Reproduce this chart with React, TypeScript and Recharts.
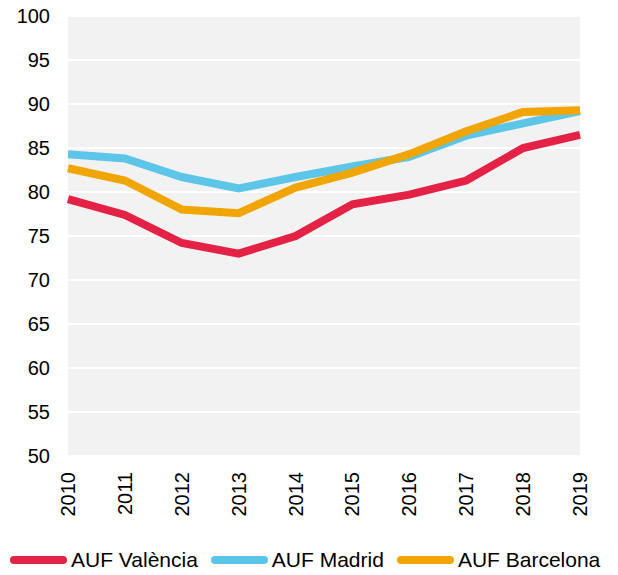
import React from "react";
import { LineChart, Line, XAxis, YAxis, CartesianGrid, Legend } from "recharts";

const years = ["2010", "2011", "2012", "2013", "2014", "2015", "2016", "2017", "2018", "2019"];
const valencia = [79.2, 77.4, 74.2, 73.0, 75.0, 78.6, 79.7, 81.3, 85.0, 86.5];
const madrid = [84.3, 83.8, 81.7, 80.4, 81.7, 82.9, 84.0, 86.4, 87.8, 89.2];
const barcelona = [82.7, 81.3, 78.0, 77.6, 80.5, 82.2, 84.3, 86.9, 89.1, 89.3];
const yTicks = [50, 55, 60, 65, 70, 75, 80, 85, 90, 95, 100];

const seriesNames = ["AUF València", "AUF Madrid", "AUF Barcelona"];
const seriesKeys = ["valencia", "madrid", "barcelona"];
const seriesColors = ["#E32245", "#5DC5E8", "#F0A500"];

const data = years.map((y, i) => ({
  year: y,
  valencia: valencia[i],
  madrid: madrid[i],
  barcelona: barcelona[i],
}));

const FONT = '"Liberation Sans", Arial, sans-serif';

const XTick = (props: any) => {
  const { x, y, payload } = props;
  return (
    <g transform={`translate(${x},${y + 16})`}>
      <text
        x={0}
        y={0}
        dy={7}
        textAnchor="end"
        transform="rotate(-90)"
        fontSize={20}
        fontFamily={FONT}
        fill="#000"
      >
        {payload.value}
      </text>
    </g>
  );
};

const LegendContent = () => (
  <div
    style={{
      display: "flex",
      alignItems: "center",
      paddingLeft: 10,
      fontFamily: FONT,
      fontSize: 21,
      color: "#000",
      height: 28,
      whiteSpace: "nowrap",
    }}
  >
    {seriesNames.map((n, i) => (
      <div key={n} style={{ display: "flex", alignItems: "center", marginRight: 13 }}>
        <svg width={57} height={10} style={{ display: "block" }}>
          <line x1={4} y1={5} x2={53} y2={5} stroke={seriesColors[i]} strokeWidth={8} strokeLinecap="round" />
        </svg>
        <span style={{ marginLeft: 4, lineHeight: "28px" }}>{n}</span>
      </div>
    ))}
  </div>
);

export default function App() {
  return (
    <div style={{ position: "absolute", left: 0, top: 0, width: 618, height: 575, background: "#fff" }}>
      <LineChart
        width={618}
        height={575}
        data={data}
        margin={{ top: 16, right: 38, left: 0, bottom: 0 }}
      >
        <CartesianGrid vertical={false} stroke="#ffffff" strokeWidth={2} fill="#f2f2f2" />
        <XAxis
          dataKey="year"
          axisLine={false}
          tickLine={false}
          tickSize={0}
          tickMargin={0}
          height={119}
          interval={0}
          tick={<XTick />}
        />
        <YAxis
          domain={[50, 100]}
          ticks={yTicks}
          axisLine={false}
          tickLine={false}
          tickSize={0}
          tickMargin={18}
          width={68}
          interval={0}
          tick={{ fontSize: 20, fontFamily: FONT, fill: "#000" }}
        />
        <Legend
          layout="horizontal"
          verticalAlign="middle"
          align="center"
          wrapperStyle={{ top: 546, left: 0, width: 618 }}
          content={<LegendContent />}
        />
        {seriesKeys.map((k, i) => (
          <Line
            key={k}
            type="linear"
            dataKey={k}
            name={seriesNames[i]}
            stroke={seriesColors[i]}
            strokeWidth={8}
            dot={false}
            activeDot={false}
            isAnimationActive={false}
          />
        ))}
      </LineChart>
    </div>
  );
}
